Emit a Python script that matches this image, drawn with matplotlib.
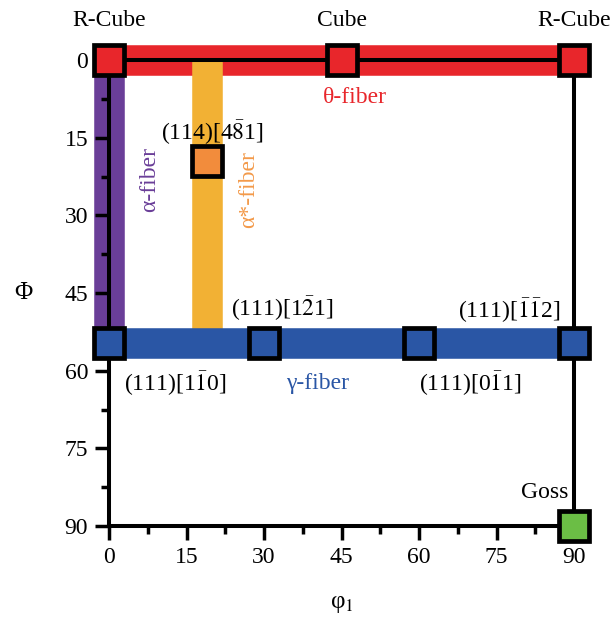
import matplotlib
matplotlib.use('Agg')
import matplotlib.pyplot as plt
from matplotlib.ticker import MultipleLocator

plt.rcParams['font.family'] = ['Liberation Serif', 'DejaVu Serif']
plt.rcParams['mathtext.fontset'] = 'stix'

# fibers: (phi1 start, phi1 end, Phi start, Phi end)
fiber_phi1 = [(0, 90), (0, 0), (19, 19), (0, 90)]
fiber_Phi = [(0, 0), (0, 54.7), (0, 54.7), (54.7, 54.7)]
fiber_colors = ['#e8262b', '#6a3e98', '#f2b134', '#2a56a5']
fiber_order = [2, 1, 3, 4]

# texture components
comp_phi1 = [0, 45, 90, 19, 0, 30, 60, 90, 90]
comp_Phi = [0, 0, 0, 19.5, 54.7, 54.7, 54.7, 54.7, 90]
comp_colors = ['#e8262b', '#e8262b', '#e8262b', '#f28c3c',
               '#2a56a5', '#2a56a5', '#2a56a5', '#2a56a5', '#6bbe45']

# labels: text, phi1, Phi, color, rotation
labels = [
    ('R-Cube', 0, -7.7, 'black', 0),
    ('Cube', 45, -7.7, 'black', 0),
    ('R-Cube', 90, -7.7, 'black', 0),
    ('θ-fiber', 47.5, 7.3, '#e8262b', 0),
    (r'(114)[4$\bar{8}$1]', 20, 14, 'black', 0),
    ('α-fiber', 7.8, 23, '#6a3e98', 90),
    ('α*-fiber', 27, 25, '#f39a4a', 90),
    (r'(111)[1$\bar{2}$1]', 33.5, 48, 'black', 0),
    (r'(111)[$\bar{1}\bar{1}$2]', 77.5, 48.3, 'black', 0),
    (r'(111)[1$\bar{1}$0]', 12.8, 62.4, 'black', 0),
    ('γ-fiber', 40.4, 62.4, '#2a56a5', 0),
    (r'(111)[0$\bar{1}$1]', 70, 62.4, 'black', 0),
    ('Goss', 84.3, 83.6, 'black', 0),
]

fig = plt.figure(figsize=(6.16, 6.27), dpi=100)
ax = fig.add_axes([0.177, 0.161, 0.755, 0.743])

for (x, y, c, z) in zip(fiber_phi1, fiber_Phi, fiber_colors, fiber_order):
    ax.plot(x, y, color=c, lw=22, solid_capstyle='butt', zorder=z, clip_on=False)

# black line along theta fiber
ax.plot([0, 90], [0, 0], color='black', lw=2.9, zorder=5, clip_on=False)

for x, y, c in zip(comp_phi1, comp_Phi, comp_colors):
    ax.plot(x, y, 's', ms=22, mfc=c, mec='black', mew=3.4, zorder=10, clip_on=False)

for t, x, y, c, r in labels:
    ax.text(x, y, t, color=c, rotation=r, fontsize=17, ha='center', va='center', zorder=11)

ax.set_xlim(0, 90)
ax.set_ylim(90, 0)
for s in ['left', 'bottom', 'right']:
    ax.spines[s].set_linewidth(2.9)
    ax.spines[s].set_zorder(6)
ax.spines['top'].set_visible(False)

ax.xaxis.set_major_locator(MultipleLocator(15))
ax.xaxis.set_minor_locator(MultipleLocator(7.5))
ax.yaxis.set_major_locator(MultipleLocator(15))
ax.yaxis.set_minor_locator(MultipleLocator(7.5))
ax.tick_params(which='major', length=10, width=2.5, labelsize=17, pad=5)
ax.tick_params(which='minor', length=6, width=2.5)

ax.set_xlabel('φ$_1$', fontsize=18, labelpad=18)
ax.set_ylabel('Φ', fontsize=18, rotation=0, labelpad=30, va='center')

fig.savefig('out.png', dpi=100)
